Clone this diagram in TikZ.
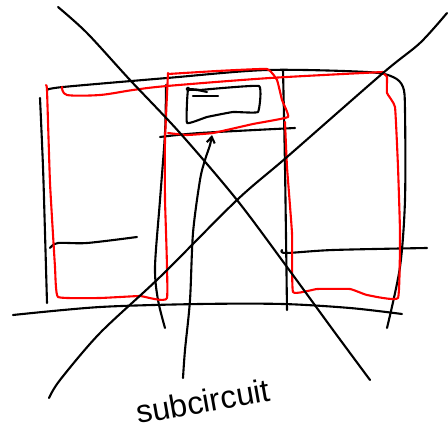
\documentclass[tikz,border=0pt]{standalone}
\usepackage{fontspec}
\setmainfont{Liberation Sans}
\usetikzlibrary{arrows.meta}
\begin{document}
\begin{tikzpicture}[x=1pt,y=-1pt,
  ink/.style={line width=2.1pt, line cap=round, line join=round, black},
  redink/.style={line width=2.1pt, line cap=round, line join=round, red},
  sm/.style={smooth, tension=0.5},
  sh/.style={smooth, tension=0.2}]
\useasboundingbox (0,0) rectangle (448,428);
% black frame strokes
\draw[ink] plot[sm] coordinates {(47,90) (63,87) (167,78) (267,70) (367,72) (393,77) (403,87) (405,110) (405,200) (400,267) (387,328)};
\draw[ink] plot[sm] coordinates {(40,98) (43,167) (45,233) (47,303)};
\draw[ink] plot[sm] coordinates {(50,248) (58,243) (87,243) (137,237)};
\draw[ink] plot[sm] coordinates {(166,85) (165,133) (160,200) (155,267) (158,300) (165,328)};
\draw[ink] plot[sm] coordinates {(160,137) (200,133) (295,128)};
\draw[ink] plot[sm] coordinates {(283,70) (285,167) (287,310)};
\draw[ink] plot[sm] coordinates {(282,250) (286,253) (333,250) (427,248)};
\draw[ink] plot[sm] coordinates {(13,315) (100,307) (200,304) (283,304) (350,308) (402,314)};
% inner box
\draw[ink] plot[sh] coordinates {(200,90) (259,86) (258,112) (233,112) (207,117) (187,123) (188,90) (200,90)};
\draw[ink] (188,89) circle (1.5pt);
\draw[ink] plot[sm] coordinates {(188,90) (197,90) (207,92)};
\draw[ink] (193,96) -- (218,96);
% red boxes
\draw[redink] plot[sh] coordinates {(46,85) (47,90) (50,183) (55,267) (58,297) (100,298) (140,296) (167,298) (165,200) (165,140) (168,73)};
\draw[redink] plot[sm] coordinates {(62,87) (67,95) (100,95) (133,90) (167,86) (270,78) (383,72)};
\draw[redink] plot[sh] coordinates {(168,74) (217,71) (267,69) (277,80) (282,100) (288,117) (253,124) (213,133) (187,135) (168,133)};
\draw[redink] plot[sh] coordinates {(285,122) (287,167) (292,233) (293,292) (317,289) (350,289) (367,295) (398,298) (400,233) (398,167) (395,107) (387,93) (387,77) (383,73)};
% crossing diagonals
\draw[ink] plot[sm] coordinates {(58,7) (87,33) (130,80) (180,133) (237,200) (287,267) (333,330) (370,380)};
\draw[ink] plot[sm] coordinates {(447,13) (420,43) (383,73) (287,157) (237,200) (160,277) (100,333) (60,380) (49,398)};
% label and arrow
\node[rotate=10, font=\fontsize{32}{36}\selectfont, inner sep=0pt] (lab) at (203,401) {subcircuit};
\coordinate (tip) at (212,135);
\coordinate (tail) at (183,378);
\draw[ink, -{Straight Barb[length=6pt,width=8pt]}] plot[sm] coordinates {(tail) (185,350) (190,300) (193,233) (200,180) (205,160) (210,145) (tip)};
\end{tikzpicture}
\end{document}
